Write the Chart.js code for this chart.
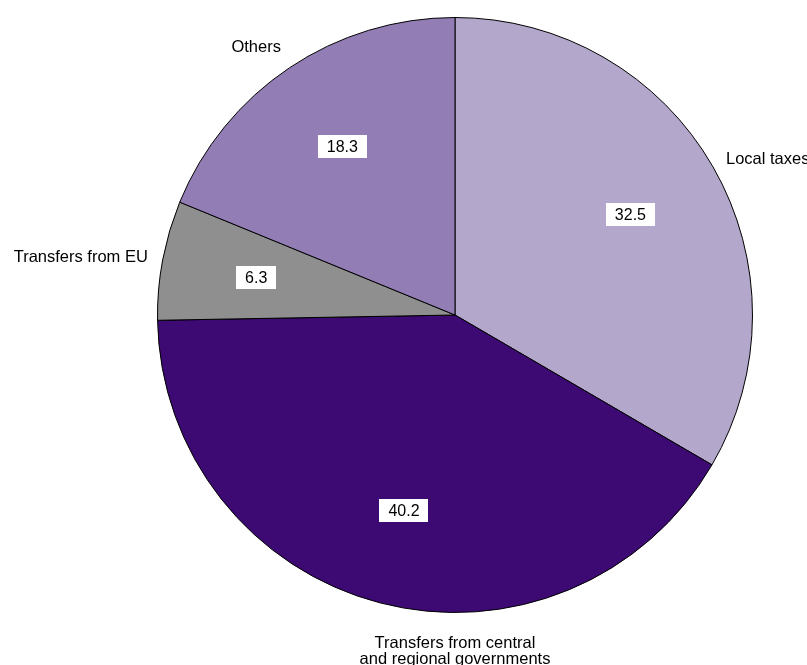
<!DOCTYPE html>
<html><head><meta charset="utf-8">
<script src="https://cdn.jsdelivr.net/npm/chart.js@4/dist/chart.umd.min.js"></script>
<style>html,body{margin:0;padding:0;background:#fff}#w{width:807px;height:665px}</style>
</head><body><div id="w"><canvas id="c" width="807" height="665"></canvas></div>
<script>
const categories = ["Local taxes", ["Transfers from central", "and regional governments"], "Transfers from EU", "Others"];
const values = [32.5, 40.2, 6.3, 18.3];
const colors = ["#b4a7cc", "#3d0973", "#8f8f8f", "#937db5"];

const labelPlugin = {
  id: 'pieLabels',
  afterDatasetsDraw(chart) {
    const ctx = chart.ctx;
    const meta = chart.getDatasetMeta(0);
    meta.data.forEach((arc, i) => {
      const cx = arc.x, cy = arc.y, R = arc.outerRadius;
      const mid = (arc.startAngle + arc.endAngle) / 2;
      const s = Math.cos(mid), c = Math.sin(mid);
      // value box
      const txt = values[i].toFixed(1);
      ctx.save();
      ctx.font = '16px "Liberation Sans", Arial, sans-serif';
      const tw = ctx.measureText(txt).width;
      const bx = cx + s * R * 0.68, by = cy + c * R * 0.68;
      const bw = tw + 18, bh = 23;
      ctx.fillStyle = '#fff';
      ctx.fillRect(Math.round(bx - bw / 2), Math.round(by - bh / 2), Math.round(bw), bh);
      ctx.fillStyle = '#000';
      ctx.textAlign = 'center';
      ctx.textBaseline = 'middle';
      ctx.fillText(txt, bx, by + 1);
      // outer label
      ctx.font = '16.5px "Liberation Sans", Arial, sans-serif';
      const d = R + 15;
      let lx = cx + s * d, ly = cy + c * d;
      let align = s > 0.3 ? 'left' : (s < -0.3 ? 'right' : 'center');
      let base = c < -0.6 ? 'bottom' : (c > 0.6 ? 'top' : 'middle');
      if (align === 'center') lx = cx;
      const lines = Array.isArray(categories[i]) ? categories[i] : [categories[i]];
      const lh = 16;
      ctx.textAlign = align;
      ctx.textBaseline = 'middle';
      let y0;
      if (base === 'top') y0 = ly + 26;
      else if (base === 'bottom') y0 = ly - lh / 2 - (lines.length - 1) * lh;
      else y0 = ly - (lines.length - 1) * lh / 2;
      lines.forEach((t, k) => ctx.fillText(t, lx, y0 + k * lh));
      ctx.restore();
    });
  }
};

new Chart(document.getElementById('c'), {
  type: 'pie',
  data: {
    labels: categories.map(l => Array.isArray(l) ? l.join(' ') : l),
    datasets: [{ data: values, backgroundColor: colors, borderColor: '#000', borderWidth: 1 }]
  },
  options: {
    responsive: false,
    animation: false,
    layout: { padding: { left: 157, right: 54, top: 17, bottom: 52 } },
    plugins: { legend: { display: false }, tooltip: { enabled: false } }
  },
  plugins: [labelPlugin]
});
</script>
</body></html>
